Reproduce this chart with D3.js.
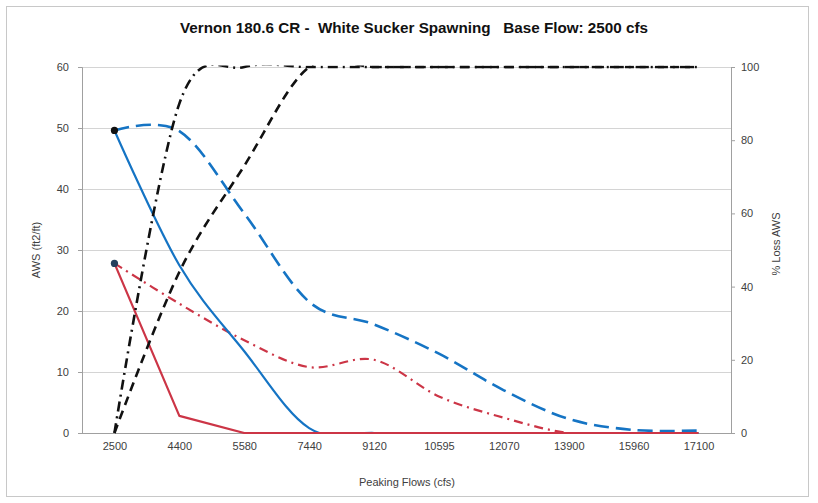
<!DOCTYPE html>
<html>
<head>
<meta charset="utf-8">
<script src="https://cdn.jsdelivr.net/npm/d3@7/dist/d3.min.js"></script>
<style>
  html, body { margin: 0; padding: 0; background: #fff; }
  svg { display: block; font-family: "Liberation Sans", Arial, sans-serif; }
</style>
</head>
<body>
<svg id="chart" width="818" height="503"></svg>
<script>
// ---- data ----
const categories = ["2500", "4400", "5580", "7440", "9120", "10595", "12070", "13900", "15960", "17100"];
// left axis: AWS (ft2/ft)
const awsBlueSolid  = [49.6, 27.5, 13.4, 0.8, 0, 0, 0, 0, 0, 0];
const awsBlueDashed = [49.6, 49.5, 36.0, 21.5, 17.8, 13.0, 7.0, 2.3, 0.5, 0.4];
const awsRedSolid   = [27.8, 2.8, 0, 0, 0, 0, 0, 0, 0, 0];
const awsRedDashDot = [27.8, 21.2, 15.2, 10.8, 12.0, 6.0, 2.5, 0, 0, 0];
// right axis: % Loss AWS
const lossBlackDashDot = [0, 90, 100, 100, 100, 100, 100, 100, 100, 100];
const lossBlackDashed  = [0, 44, 73, 100, 100, 100, 100, 100, 100, 100];
// base-flow markers
const markerCategories = ["2500", "2500"];
const markerValues = [49.6, 27.8];
const leftTicks = [0, 10, 20, 30, 40, 50, 60];
const rightTicks = [0, 20, 40, 60, 80, 100];

const title = "Vernon 180.6 CR -  White Sucker Spawning   Base Flow: 2500 cfs";

// ---- layout ----
const svg = d3.select("#chart");
const L = 82, R = 731, T = 67, B = 433;

svg.append("rect").attr("x", 0).attr("y", 0).attr("width", 818).attr("height", 503).attr("fill", "#fff");
svg.append("rect").attr("x", 6.5).attr("y", 6.5).attr("width", 802).attr("height", 490)
  .attr("fill", "none").attr("stroke", "#c8c8c8").attr("stroke-width", 1);

svg.append("defs").append("clipPath").attr("id", "plotclip")
  .append("rect").attr("x", L).attr("y", T - 1.5).attr("width", R - L).attr("height", B - T + 2.5);

const x = d3.scalePoint().domain(categories).range([L, R]).padding(0.5);
const yL = d3.scaleLinear().domain([0, 60]).range([B, T]);
const yR = d3.scaleLinear().domain([0, 100]).range([B, T]);

// gridlines
svg.append("g").selectAll("line").data(leftTicks.filter(d => d > 0)).join("line")
  .attr("x1", L).attr("x2", R)
  .attr("y1", d => Math.round(yL(d)) + 0.5).attr("y2", d => Math.round(yL(d)) + 0.5)
  .attr("stroke", "#d4d4d4").attr("stroke-width", 1);

// axes
const axisColor = "#a0a0a0";
const gL = svg.append("g").attr("transform", `translate(${L},0)`)
  .call(d3.axisLeft(yL).tickValues(leftTicks).tickSize(4).tickPadding(9));
const gR = svg.append("g").attr("transform", `translate(${R},0)`)
  .call(d3.axisRight(yR).tickValues(rightTicks).tickSize(4).tickPadding(6));
const gX = svg.append("g").attr("transform", `translate(0,${B})`)
  .call(d3.axisBottom(x).tickSize(0).tickPadding(9));
[gL, gR, gX].forEach(g => {
  g.selectAll(".domain").attr("stroke", axisColor);
  g.selectAll(".tick line").attr("stroke", axisColor);
  g.selectAll("text").attr("fill", "#404040").style("font-size", "11px")
    .style("font-family", "'Liberation Sans', Arial, sans-serif");
});
gX.select(".domain").attr("d", `M${L},0.5H${R}`);

// lines
const smooth = d3.curveCardinal.tension(0);
const linesG = svg.append("g").attr("clip-path", "url(#plotclip)");
function drawLine(values, yScale, color, width, dash, curve) {
  const line = d3.line()
    .x((d, i) => x(categories[i]))
    .y(d => yScale(d))
    .curve(curve);
  linesG.append("path").datum(values)
    .attr("d", line)
    .attr("fill", "none")
    .attr("stroke", color)
    .attr("stroke-width", width)
    .attr("stroke-dasharray", dash)
    .attr("stroke-linejoin", "round");
}
const blue = "#1574c4", red = "#cc3546";
drawLine(awsRedDashDot, yL, red, 2.2, "9,5,2,5", smooth);
drawLine(awsBlueDashed, yL, blue, 2.6, "15,7", smooth);
drawLine(awsBlueSolid, yL, blue, 2.2, null, smooth);
drawLine(awsRedSolid, yL, red, 2.2, null, d3.curveLinear);
drawLine(lossBlackDashDot, yR, "#111", 2.6, "10,5,2,5", smooth);
drawLine(lossBlackDashed, yR, "#111", 2.6, "9,6", smooth);

// markers
svg.append("g").selectAll("circle").data(markerValues).join("circle")
  .attr("cx", (d, i) => x(markerCategories[i]))
  .attr("cy", d => yL(d))
  .attr("r", 3.6)
  .attr("fill", (d, i) => i === 0 ? "#111" : "#24405e");

// titles
svg.append("text").attr("x", 414).attr("y", 33).attr("text-anchor", "middle")
  .style("font-size", "15px").style("font-weight", "bold").attr("fill", "#111")
  .attr("textLength", 468).attr("lengthAdjust", "spacingAndGlyphs")
  .attr("xml:space", "preserve").style("white-space", "pre")
  .text(title);
svg.append("text").attr("transform", "translate(40,250) rotate(-90)")
  .attr("text-anchor", "middle").style("font-size", "11px").attr("fill", "#404040")
  .text("AWS (ft2/ft)");
svg.append("text").attr("transform", "translate(780,244) rotate(-90)")
  .attr("text-anchor", "middle").style("font-size", "11px").attr("fill", "#404040")
  .text("% Loss AWS");
svg.append("text").attr("x", 407).attr("y", 486).attr("text-anchor", "middle")
  .style("font-size", "11px").attr("fill", "#404040")
  .text("Peaking Flows (cfs)");
</script>
</body>
</html>
